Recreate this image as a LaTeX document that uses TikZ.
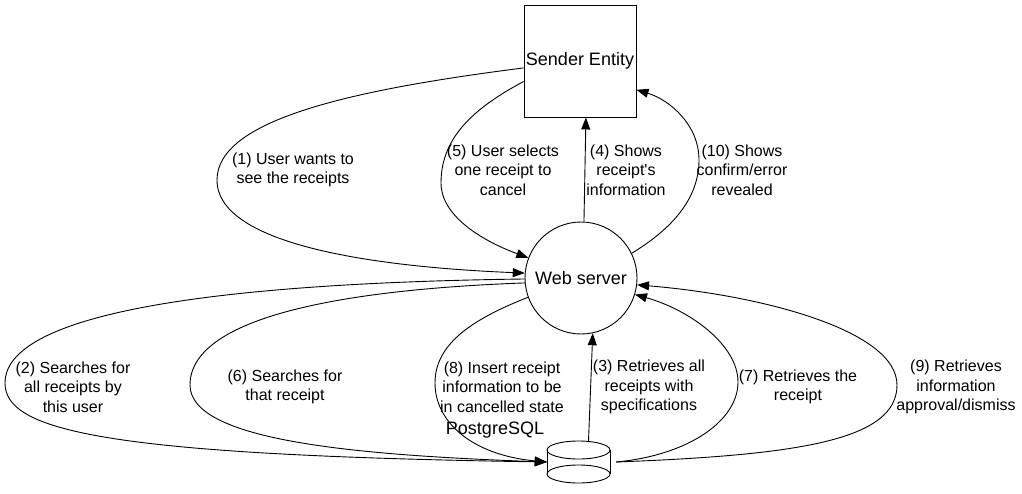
\documentclass[tikz,border=0pt]{standalone}
\usepackage{fontspec}
\setmainfont{Liberation Sans}
\usetikzlibrary{arrows.meta}
\begin{document}
\begin{tikzpicture}[x=1pt,y=-1pt,
  edge/.style={line width=0.9pt, -{Triangle[length=12pt,width=9pt]}},
  plain/.style={line width=0.9pt},
  lbl/.style={font=\fontsize{16}{19.3}\selectfont, align=center, inner sep=0pt},
  nodefont/.style={font=\fontsize{18}{21}\selectfont}]
\useasboundingbox (0,0) rectangle (1022,493);
% nodes
\node[draw, line width=0.9pt, fill=white, minimum size=112pt, inner sep=0pt, nodefont] (se) at (580,61) {\raisebox{-3pt}{Sender Entity}};
\node[draw, circle, line width=0.9pt, fill=white, minimum size=112pt, inner sep=0pt, nodefont] (ws) at (581,278) {\raisebox{-1pt}{Web server}};
\node[minimum width=63pt, minimum height=42pt, inner sep=0pt] (db) at (578.5,462) {};
\draw[plain] (547,450) -- (547,474) (610,450) -- (610,474);
\draw[plain] (578.5,450) ellipse [x radius=31.5, y radius=9];
\draw[plain] (578.5,474) ellipse [x radius=31.5, y radius=9];
\node[nodefont, inner sep=0pt] (pg) at (495,430) {PostgreSQL};
% edges
\draw[edge] (se.187) .. controls (350,90) and (217,120) .. (217,180) .. controls (217,250) and (400,268) .. (ws.175);
\draw[edge] (se.200) .. controls (470,110) and (441,140) .. (441,183) .. controls (441,215) and (480,240) .. (ws.159);
\draw[edge] (ws.87) -- (se.276);
\draw[edge] (ws.26) .. controls (670,230) and (699,200) .. (699,160) .. controls (699,125) and (670,100) .. (se.333);
\draw[edge] (ws.181) .. controls (300,282) and (5,300) .. (5,383) .. controls (5,430) and (100,455) .. (db.west);
\draw[edge] (ws.185) .. controls (330,290) and (190,320) .. (190,385) .. controls (190,440) and (350,455) .. (db.west);
\draw[edge] (ws.200) .. controls (470,320) and (435,345) .. (435,383) .. controls (435,422) and (472,455) .. (db.west);
\draw[edge] ([xshift=10pt]db.north) -- (ws.-78);
\draw[edge] ([xshift=6pt]db.east) .. controls (690,455) and (738,420) .. (738,382) .. controls (738,345) and (690,310) .. (ws.-17);
\draw[edge] ([xshift=6pt]db.east) .. controls (800,455) and (897,440) .. (897,385) .. controls (897,330) and (760,295) .. (ws.-7);
% labels
\node[lbl] (l1) at (293,170) {(1) User wants to\\see the receipts};
\node[lbl] (l5) at (503,170) {(5) User selects\\one receipt to\\cancel};
\node[lbl] (l4) at (626,170) {(4) Shows\\receipt\textquotesingle s\\information};
\node[lbl] (l10) at (742,170) {(10) Shows\\confirm/error\\revealed};
\node[lbl] (l2) at (73,387) {(2) Searches for\\all receipts by\\this user};
\node[lbl] (l6) at (285,387) {(6) Searches for\\that receipt};
\node[lbl] (l8) at (502,387) {(8) Insert receipt\\information to be\\in cancelled state};
\node[lbl] (l3) at (649,387) {(3) Retrieves all\\receipts with\\specifications};
\node[lbl] (l7) at (798,387) {(7) Retrieves the\\receipt};
\node[lbl] (l9) at (956,387) {(9) Retrieves\\information\\approval/dismiss};
\end{tikzpicture}
\end{document}
